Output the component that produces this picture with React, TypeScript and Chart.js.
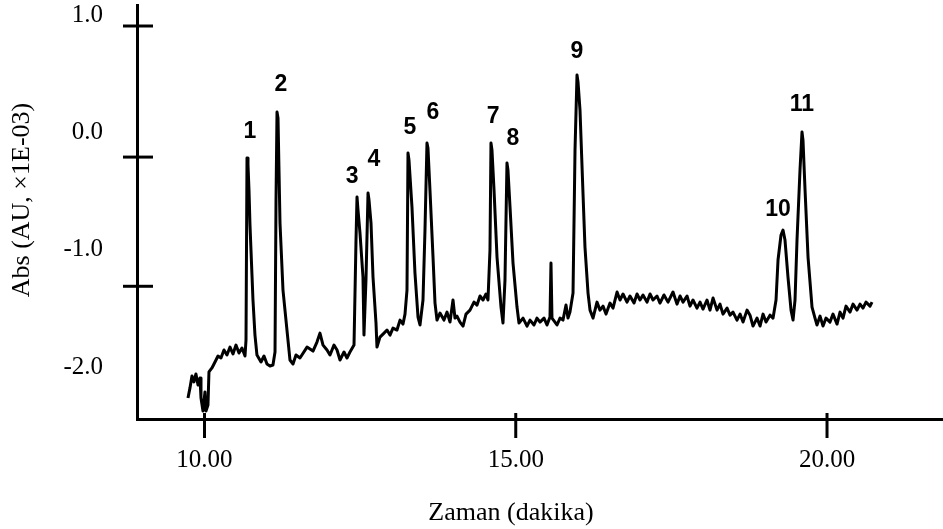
import { useEffect, useRef } from "react";
import { Chart, registerables } from "chart.js";

Chart.register(...registerables);

// Retention time (min) and absorbance (AU x1E-03)
const times = [
  9.735, 9.767, 9.799, 9.831, 9.863, 9.896, 9.928, 9.944, 9.976, 10.008,
  10.024, 10.056, 10.072, 10.120, 10.169, 10.217, 10.265, 10.313, 10.361, 10.410,
  10.458, 10.506, 10.554, 10.602, 10.651, 10.667, 10.683, 10.699, 10.715, 10.731,
  10.747, 10.763, 10.779, 10.811, 10.843, 10.908, 10.956, 11.004, 11.052, 11.100,
  11.133, 11.149, 11.165, 11.181, 11.213, 11.261, 11.325, 11.373, 11.422, 11.470,
  11.534,
  11.647, 11.743, 11.807, 11.855, 11.904, 11.968, 12.016, 12.080, 12.129, 12.177,
  12.241, 12.289, 12.337, 12.402, 12.434, 12.450, 12.466, 12.498, 12.546, 12.562,
  12.594, 12.627, 12.643, 12.675, 12.707, 12.755, 12.771, 12.819, 12.884, 12.932,
  12.980, 13.028, 13.092, 13.141, 13.189, 13.221, 13.253, 13.269, 13.285, 13.333,
  13.381, 13.430, 13.462,
  13.510, 13.542, 13.574, 13.590, 13.622, 13.671, 13.703, 13.735, 13.783, 13.847,
  13.896, 13.944, 13.992, 14.024, 14.056, 14.104, 14.153, 14.201, 14.265, 14.329,
  14.378, 14.426, 14.474, 14.522, 14.554, 14.586, 14.602, 14.618, 14.651, 14.699,
  14.763, 14.795, 14.827, 14.859, 14.875, 14.908, 14.956, 15.020, 15.052, 15.117,
  15.181, 15.229, 15.293, 15.341,
  15.390, 15.454, 15.502, 15.550, 15.566, 15.582, 15.630, 15.663, 15.711, 15.759,
  15.807, 15.839, 15.871, 15.920, 15.952, 15.984, 16.000, 16.032, 16.080, 16.112,
  16.161, 16.193, 16.241, 16.305, 16.353, 16.402, 16.450, 16.514, 16.562, 16.627,
  16.675, 16.723, 16.787, 16.835, 16.900, 16.948, 16.996, 17.044, 17.108, 17.157,
  17.205, 17.269,
  17.317, 17.381, 17.446, 17.526, 17.590, 17.639, 17.687, 17.751, 17.799, 17.847,
  17.911, 17.960, 18.008, 18.072, 18.120, 18.169, 18.233, 18.281, 18.329, 18.394,
  18.442, 18.490, 18.554, 18.603, 18.651, 18.715, 18.763, 18.811, 18.875, 18.924,
  18.972, 19.020, 19.084,
  19.133, 19.181, 19.213, 19.261, 19.293, 19.325, 19.373, 19.422, 19.454, 19.486,
  19.518, 19.566, 19.598, 19.614, 19.647, 19.695, 19.759, 19.807, 19.839, 19.888,
  19.936, 19.984, 20.048, 20.096, 20.161, 20.209, 20.257, 20.305, 20.370, 20.418,
  20.482, 20.530, 20.578, 20.626, 20.691, 20.723,
];

const absorbance = [
  -2.264, -2.178, -2.076, -2.127, -2.059, -2.153, -2.093, -2.264, -2.374, -2.212,
  -2.374, -2.323, -2.042, -2.008, -1.957, -1.906, -1.923, -1.855, -1.898, -1.830,
  -1.889, -1.813, -1.881, -1.838, -1.906, -1.770, -0.219, -0.279, -0.492, -0.790,
  -1.004, -1.216, -1.429, -1.728, -1.898, -1.957, -1.906, -1.974, -1.991, -1.983,
  -1.872, -0.577, 0.173, 0.122, -0.773, -1.344, -1.685, -1.940, -1.974, -1.898,
  -1.923,
  -1.830, -1.864, -1.787, -1.711, -1.813, -1.855, -1.898, -1.813, -1.855, -1.940,
  -1.872, -1.923, -1.872, -1.813, -0.918, -0.551, -0.662, -0.858, -1.233, -1.728,
  -1.259, -0.517, -0.577, -0.773, -1.233, -1.625, -1.830, -1.745, -1.711, -1.685,
  -1.728, -1.668, -1.685, -1.600, -1.634, -1.549, -1.344, -0.176, -0.236, -0.637,
  -1.199, -1.574, -1.642,
  -1.429, -0.833, -0.091, -0.134, -0.492, -1.063, -1.455, -1.600, -1.540, -1.600,
  -1.532, -1.617, -1.429, -1.583, -1.566, -1.617, -1.651, -1.549, -1.515, -1.447,
  -1.472, -1.395, -1.429, -1.378, -1.429, -1.004, -0.091, -0.151, -0.492, -1.063,
  -1.489, -1.625, -1.259, -0.262, -0.321, -0.637, -1.114, -1.489, -1.625, -1.583,
  -1.651, -1.600, -1.642, -1.583,
  -1.617, -1.583, -1.642, -1.574, -1.114, -1.583, -1.617, -1.642, -1.583, -1.600,
  -1.472, -1.583, -1.532, -1.370, -0.151, 0.488, 0.429, 0.190, -0.517, -0.978,
  -1.370, -1.515, -1.583, -1.447, -1.515, -1.481, -1.549, -1.455, -1.498, -1.361,
  -1.429, -1.378, -1.447, -1.395, -1.455, -1.378, -1.429, -1.386, -1.447, -1.378,
  -1.429, -1.395,
  -1.455, -1.386, -1.447, -1.361, -1.464, -1.395, -1.447, -1.395, -1.481, -1.429,
  -1.498, -1.447, -1.506, -1.429, -1.515, -1.412, -1.515, -1.464, -1.549, -1.498,
  -1.558, -1.532, -1.600, -1.549, -1.617, -1.515, -1.558, -1.651, -1.583, -1.651,
  -1.549, -1.617, -1.558,
  -1.583, -1.429, -1.088, -0.875, -0.833, -0.918, -1.233, -1.515, -1.600, -1.429,
  -0.918, -0.321, 0.003, -0.066, -0.492, -1.063, -1.489, -1.583, -1.642, -1.566,
  -1.651, -1.583, -1.617, -1.549, -1.634, -1.532, -1.583, -1.481, -1.532, -1.464,
  -1.515, -1.464, -1.498, -1.447, -1.481, -1.447,
];

const xTickValues = [10, 15, 20];
const yTickValues = [1, 0, -1, -2];
const yMarkValues = [0.906, -0.211, -1.312];

const peakNames = ["1", "2", "3", "4", "5", "6", "7", "8", "9", "10", "11"];
const peakLabelTimes = [10.731, 11.229, 12.37, 12.723, 13.301, 13.671, 14.635, 14.956, 15.984, 19.213, 19.598];
const peakLabelAbs = [0.003, 0.403, -0.381, -0.236, 0.037, 0.164, 0.13, -0.057, 0.684, -0.662, 0.233];

const xTitle = "Zaman (dakika)";
const yTitle = "Abs (AU, ×1E-03)";

const SERIF = "'Liberation Serif', 'Times New Roman', serif";
const SANS = "'Liberation Sans', Arial, sans-serif";

export default function App() {
  const ref = useRef<HTMLCanvasElement>(null);

  useEffect(() => {
    if (!ref.current) return;

    const overlay = {
      id: "overlay",
      afterDraw(chart: any) {
        const { ctx, chartArea } = chart;
        const xs = chart.scales.x;
        const ys = chart.scales.y;
        ctx.save();
        ctx.strokeStyle = "#000";
        ctx.lineWidth = 3;
        // y-axis tick marks crossing the axis
        yMarkValues.forEach((v) => {
          const py = ys.getPixelForValue(v);
          ctx.beginPath();
          ctx.moveTo(chartArea.left - 14, py);
          ctx.lineTo(chartArea.left + 16, py);
          ctx.stroke();
        });
        // x-axis tick marks crossing the axis
        xTickValues.forEach((v) => {
          const px = xs.getPixelForValue(v);
          ctx.beginPath();
          ctx.moveTo(px, chartArea.bottom - 6);
          ctx.lineTo(px, chartArea.bottom + 19);
          ctx.stroke();
        });
        // peak labels
        ctx.fillStyle = "#000";
        ctx.font = `bold 23px ${SANS}`;
        ctx.textAlign = "center";
        ctx.textBaseline = "middle";
        peakNames.forEach((name, i) => {
          ctx.fillText(name, xs.getPixelForValue(peakLabelTimes[i]), ys.getPixelForValue(peakLabelAbs[i]));
        });
        // axis titles
        ctx.font = `26px ${SERIF}`;
        ctx.fillText(xTitle, 511, 513);
        ctx.translate(22, 200);
        ctx.rotate(-Math.PI / 2);
        ctx.fillText(yTitle, 0, 0);
        ctx.restore();
      },
    };

    const chart = new Chart(ref.current, {
      type: "line",
      data: {
        datasets: [
          {
            data: times.map((t, i) => ({ x: t, y: absorbance[i] })),
            borderColor: "#000",
            borderWidth: 3,
            borderJoinStyle: "round",
            pointRadius: 0,
            tension: 0,
            fill: false,
          },
        ],
      },
      options: {
        responsive: false,
        animation: false,
        layout: { padding: { top: 5, left: 0, right: 0, bottom: 0 } },
        plugins: {
          legend: { display: false },
          tooltip: { enabled: false },
        },
        scales: {
          x: {
            type: "linear",
            min: 8.916,
            max: 21.863,
            afterBuildTicks: (s: any) => {
              s.ticks = xTickValues.map((v) => ({ value: v }));
            },
            afterFit: (s: any) => {
              s.height = 110;
              s.paddingLeft = 0;
              s.paddingRight = 0;
            },
            grid: { display: false, drawTicks: false },
            border: { display: true, color: "#000", width: 3 },
            ticks: {
              autoSkip: false,
              maxRotation: 0,
              padding: 26,
              color: "#000",
              font: { family: SERIF, size: 25 },
              callback: (v: any) => Number(v).toFixed(2),
            },
          },
          y: {
            type: "linear",
            min: -2.443,
            max: 1.085,
            afterBuildTicks: (s: any) => {
              s.ticks = yTickValues.map((v) => ({ value: v }));
            },
            afterFit: (s: any) => {
              s.width = 137;
              s.paddingTop = 0;
              s.paddingBottom = 0;
            },
            grid: { display: false, drawTicks: false },
            border: { display: true, color: "#000", width: 3 },
            ticks: {
              autoSkip: false,
              padding: 34,
              color: "#000",
              font: { family: SERIF, size: 25 },
              callback: (v: any) => Number(v).toFixed(1),
            },
          },
        },
      },
      plugins: [overlay],
    } as any);

    return () => chart.destroy();
  }, []);

  return (
    <div style={{ position: "absolute", left: 0, top: 0, width: 943, height: 529 }}>
      <canvas ref={ref} width={943} height={529} style={{ display: "block" }} />
    </div>
  );
}
